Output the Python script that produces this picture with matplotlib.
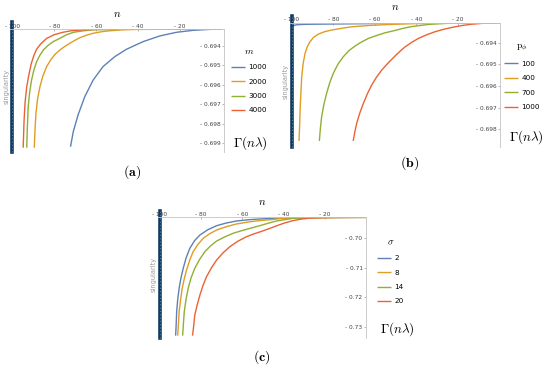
#!/usr/bin/env python3

from matplotlib import rcParams
from matplotlib.pyplot import close, figure, savefig

rcParams["mathtext.fontset"] = "cm"
rcParams["font.family"] = ["DejaVu Sans"]

COLORS = ["#5e81b5", "#e19c24", "#8fb032", "#eb6235"]
SINGULARITY = -100
X_TICKS = [-100, -80, -60, -40, -20]
X_TICK_LABELS = ["- 100", "- 80", "- 60", "- 40", "- 20"]

# (a) varying m
A_LABELS = ["1000", "2000", "3000", "4000"]
A_TICKS = [-0.694, -0.695, -0.696, -0.697, -0.698, -0.699]
A_TICK_LABELS = ["- 0.694", "- 0.695", "- 0.696", "- 0.697", "- 0.698", "- 0.699"]
A_1000_N = [-72.3, -71.0, -68.7, -65.5, -61.5, -56.8, -51.2, -45.6, -37.7, -29.8,
            -21.8, -13.9, -6.0, 0.0]
A_1000_Y = [-0.69918, -0.69841, -0.69755, -0.69661, -0.69576, -0.69507, -0.69456,
            -0.69418, -0.69379, -0.69350, -0.69331, -0.69321, -0.69316, -0.69314]
A_2000_N = [-89.6, -89.3, -88.8, -88.0, -86.9, -85.5, -83.7, -81.8, -79.8, -77.4,
            -75.0, -72.6, -70.2, -67.9, -65.0, -61.5, -57.5, -53.6, -47.0, -40.0,
            -20.0, 0.0]
A_2000_Y = [-0.69923, -0.69840, -0.69746, -0.69670, -0.69610, -0.69555, -0.69507,
            -0.69473, -0.69445, -0.69422, -0.69403, -0.69387, -0.69372, -0.69359,
            -0.69347, -0.69336, -0.69328, -0.69323, -0.69318, -0.69316, -0.69315,
            -0.69314]
A_3000_N = [-93.2, -92.9, -92.5, -91.8, -90.9, -89.8, -88.5, -87.0, -85.3, -83.0,
            -80.6, -77.4, -74.5, -71.0, -66.0, -61.5, -50.0, -30.0, 0.0]
A_3000_Y = [-0.69923, -0.69815, -0.69712, -0.69638, -0.69576, -0.69525, -0.69482,
            -0.69450, -0.69422, -0.69398, -0.69379, -0.69362, -0.69345, -0.69331,
            -0.69323, -0.69318, -0.69316, -0.69315, -0.69314]
A_4000_N = [-94.9, -94.5, -94.0, -93.2, -92.2, -91.0, -89.8, -88.5, -86.5, -83.7,
            -80.0, -76.0, -72.0, -66.0, -58.0, -40.0, 0.0]
A_4000_Y = [-0.69923, -0.69790, -0.69690, -0.69610, -0.69550, -0.69490, -0.69450,
            -0.69418, -0.69390, -0.69362, -0.69343, -0.69331, -0.69323, -0.69318,
            -0.69316, -0.69315, -0.69314]

# (b) varying p_phi
B_LABELS = ["100", "400", "700", "1000"]
B_TICKS = [-0.694, -0.695, -0.696, -0.697, -0.698]
B_TICK_LABELS = ["- 0.694", "- 0.695", "- 0.696", "- 0.697", "- 0.698"]
B_100_N = [-99.6, -98.0, -95.0, -90.0, -80.0, -70.0, -60.0, -50.0, -40.0, -30.0,
           -20.0, -10.0, 0.0]
B_100_Y = [-0.69322, -0.69317, -0.69315, -0.69314, -0.69313, -0.69312, -0.69311,
           -0.69310, -0.69309, -0.69308, -0.69308, -0.69307, -0.69307]
B_400_N = [-96.5, -96.2, -96.0, -95.6, -95.2, -94.5, -93.6, -92.5, -91.2, -89.5,
           -87.2, -84.3, -80.8, -76.0, -71.1, -63.0, -55.1, -40.0, -20.0, 0.0]
B_400_Y = [-0.69855, -0.69780, -0.69712, -0.69630, -0.69558, -0.69495, -0.69449,
           -0.69418, -0.69395, -0.69375, -0.69360, -0.69349, -0.69341, -0.69333,
           -0.69326, -0.69320, -0.69316, -0.69311, -0.69308, -0.69307]
B_700_N = [-86.7, -86.2, -85.6, -84.5, -83.2, -81.7, -80.0, -77.8, -75.2, -72.5,
           -69.5, -66.3, -63.1, -59.0, -55.1, -50.3, -46.3, -42.2, -34.2, -25.0,
           -18.1, 0.0]
B_700_Y = [-0.69855, -0.69795, -0.69742, -0.69685, -0.69634, -0.69585, -0.69542,
           -0.69500, -0.69465, -0.69437, -0.69415, -0.69396, -0.69380, -0.69366,
           -0.69354, -0.69343, -0.69333, -0.69325, -0.69315, -0.69310, -0.69308,
           -0.69307]
B_1000_N = [-70.4, -69.6, -68.7, -67.2, -65.5, -63.6, -61.5, -59.2, -56.7, -53.6,
            -50.3, -47.9, -45.4, -42.2, -39.0, -35.0, -31.0, -27.0, -22.9, -18.0,
            -13.3, -7.0, 0.0]
B_1000_Y = [-0.69855, -0.69812, -0.69773, -0.69725, -0.69681, -0.69637, -0.69596,
            -0.69560, -0.69527, -0.69494, -0.69462, -0.69440, -0.69419, -0.69398,
            -0.69380, -0.69363, -0.69349, -0.69338, -0.69329, -0.69320, -0.69314,
            -0.69309, -0.69307]

# (c) varying sigma
C_LABELS = ["2", "8", "14", "20"]
C_TICKS = [-0.70, -0.71, -0.72, -0.73]
C_TICK_LABELS = ["- 0.70", "- 0.71", "- 0.72", "- 0.73"]
C_2_N = [-92.4, -92.1, -91.9, -91.4, -90.7, -89.8, -88.7, -87.3, -85.5, -83.2,
         -80.6, -76.8, -72.5, -68.0, -62.9, -57.0, -51.6, -45.0, -35.0, -20.0, 0.0]
C_2_Y = [-0.73300, -0.72880, -0.72488, -0.72090, -0.71695, -0.71340, -0.71017,
         -0.70660, -0.70339, -0.70080, -0.69888, -0.69710, -0.69573, -0.69485,
         -0.69414, -0.69370, -0.69346, -0.69320, -0.69305, -0.69295, -0.69290]
C_8_N = [-91.4, -91.0, -90.7, -90.0, -89.2, -88.2, -87.1, -85.6, -83.9, -81.6,
         -79.0, -76.0, -72.5, -68.0, -62.9, -56.5, -51.6, -45.0, -41.9, -30.0,
         -15.0, 0.0]
C_8_Y = [-0.73300, -0.72880, -0.72488, -0.72090, -0.71695, -0.71370, -0.71075,
         -0.70750, -0.70454, -0.70210, -0.70000, -0.69850, -0.69719, -0.69610,
         -0.69515, -0.69440, -0.69400, -0.69360, -0.69335, -0.69310, -0.69296,
         -0.69290]
C_14_N = [-89.0, -88.6, -88.2, -87.4, -86.3, -84.9, -83.1, -80.8, -78.2, -75.5,
          -72.5, -68.5, -64.5, -60.3, -56.2, -51.6, -47.5, -43.5, -35.4, -26.0,
          -15.0, 0.0]
C_14_Y = [-0.73300, -0.72880, -0.72488, -0.72090, -0.71695, -0.71340, -0.71017,
          -0.70720, -0.70454, -0.70260, -0.70092, -0.69950, -0.69831, -0.69740,
          -0.69661, -0.69573, -0.69490, -0.69414, -0.69322, -0.69300, -0.69293,
          -0.69290]
C_20_N = [-84.2, -83.6, -83.1, -81.9, -80.6, -79.1, -77.4, -75.0, -72.5, -69.5,
          -66.1, -62.2, -58.0, -55.0, -51.6, -48.1, -43.5, -39.5, -35.4, -31.0,
          -27.4, -19.3, -10.0, 0.0]
C_20_Y = [-0.73300, -0.72950, -0.72600, -0.72250, -0.71922, -0.71600, -0.71302,
          -0.71000, -0.70736, -0.70500, -0.70285, -0.70100, -0.69946, -0.69865,
          -0.69785, -0.69700, -0.69580, -0.69480, -0.69400, -0.69345, -0.69315,
          -0.69296, -0.69291, -0.69290]

W, H = 550.0, 368.0


def fig_xy(x, y):
    return (x / W, 1.0 - y / H)


def rect(left, top, right, bottom):
    return [left / W, 1.0 - bottom / H, (right - left) / W, (bottom - top) / H]


def panel(fig, box, xlim, ylim, curves, labels, yticks, ytick_labels, title,
          legend_xy, gamma_xy, tag, tag_xy):
    ax = fig.add_axes(rect(*box))
    for ((n, y), label, color) in zip(curves, labels, COLORS):
        ax.plot(n, y, color=color, linewidth=1.0, label=label,
                solid_capstyle="butt", solid_joinstyle="round")
    ax.set_xlim(*xlim)
    ax.set_ylim(*ylim)
    for side in ["left", "bottom"]:
        ax.spines[side].set_visible(False)
    for side in ["top", "right"]:
        ax.spines[side].set_color("#c4c4c4")
        ax.spines[side].set_linewidth(0.6)
    ax.xaxis.tick_top()
    ax.xaxis.set_label_position("top")
    ax.set_xticks(X_TICKS, X_TICK_LABELS)
    ax.tick_params(axis="x", direction="in", length=1.5, width=0.5,
                   color="#999999", pad=0.3, labelsize=4.2,
                   labelcolor="#444444")
    ax.yaxis.tick_right()
    ax.set_yticks(yticks, ytick_labels)
    ax.tick_params(axis="y", direction="in", length=1.5, width=0.5,
                   color="#999999", pad=-2.5, labelsize=4.2,
                   labelcolor="#444444")
    for text in ax.get_yticklabels():
        text.set_horizontalalignment("right")
    ax.set_xlabel("$n$", fontsize=8, labelpad=5)
    # singularity marker: dark band with lighter speckles
    kwargs = {
        "transform": ax.get_xaxis_transform(),
        "clip_on": False,
    }
    ax.plot([SINGULARITY, SINGULARITY], [0.0, 1.055], color="#123a5e",
            linewidth=2.6, **kwargs)
    ax.plot([SINGULARITY, SINGULARITY], [0.0, 1.055], color="#4f7fa8",
            linewidth=0.7, linestyle=(0, (1.2, 2.2)), **kwargs)
    ax.annotate("singularity", xy=(SINGULARITY, 0.53),
                xycoords=("data", "axes fraction"), xytext=(-4.4, 0),
                textcoords="offset points", rotation=90, ha="center",
                va="center", fontsize=4.8, color="#9a9a9a")
    ax.legend(title=title, loc="upper left",
              bbox_to_anchor=fig_xy(*legend_xy),
              bbox_transform=fig.transFigure, frameon=False, fontsize=5.2,
              title_fontsize=7, handlelength=1.9, handletextpad=0.5,
              labelspacing=1.15, borderpad=0, borderaxespad=0)
    fig.text(*fig_xy(*gamma_xy), r"$\Gamma(n\lambda)$", fontsize=9.5,
             ha="left", va="center")
    fig.text(*fig_xy(*tag_xy), r"$\mathbf{(%s)}$" % tag, fontsize=10,
             ha="center", va="center")
    return ax


def main():
    fig = figure(figsize=(W / 100, H / 100), dpi=100)
    panel(fig, (10.4, 29, 224.1, 152), (-101, 1), (-0.69945, -0.69314),
          [(A_1000_N, A_1000_Y), (A_2000_N, A_2000_Y),
           (A_3000_N, A_3000_Y), (A_4000_N, A_4000_Y)],
          A_LABELS, A_TICKS, A_TICK_LABELS, "$m$", (231, 46),
          (233, 143), "a", (132, 172))
    panel(fig, (289.7, 22.7, 500.3, 147), (-101, 0.5), (-0.69883, -0.69307),
          [(B_100_N, B_100_Y), (B_400_N, B_400_Y),
           (B_700_N, B_700_Y), (B_1000_N, B_1000_Y)],
          B_LABELS, B_TICKS, B_TICK_LABELS, r"$\mathrm{p}_{\phi}$", (504, 40),
          (509, 137), "b", (410, 163))
    panel(fig, (157.9, 217.3, 366, 338), (-101, 0), (-0.73380, -0.69288),
          [(C_2_N, C_2_Y), (C_8_N, C_8_Y),
           (C_14_N, C_14_Y), (C_20_N, C_20_Y)],
          C_LABELS, C_TICKS, C_TICK_LABELS, r"$\sigma$", (377, 237),
          (380, 329), "c", (262, 357))
    savefig("out.png", dpi=100)
    close()


if __name__ == "__main__":
    main()
